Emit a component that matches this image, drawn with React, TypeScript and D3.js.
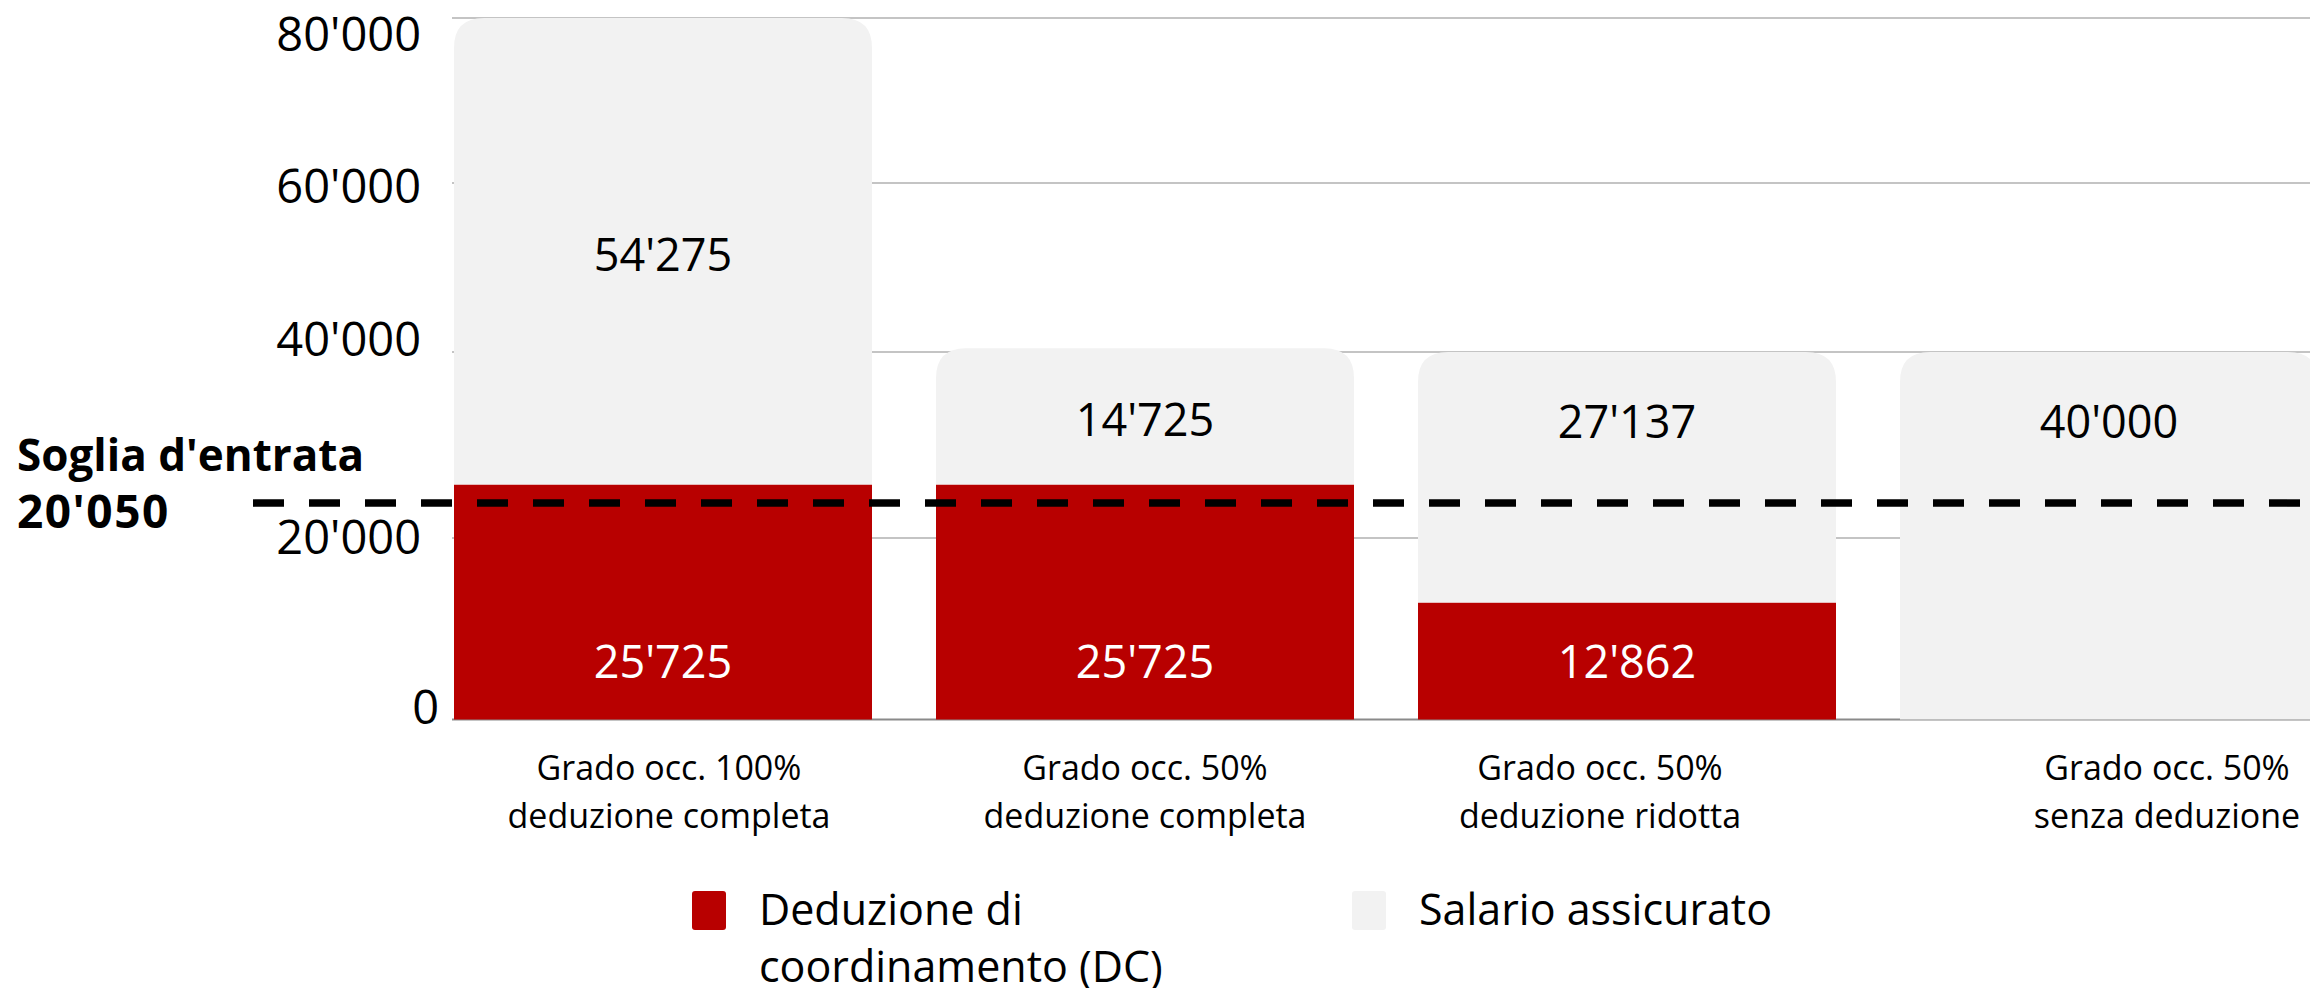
import React from "react";
import * as d3 from "d3";

// ---- data ----
const CAT_LINE1 = ["Grado occ. 100%", "Grado occ. 50%", "Grado occ. 50%", "Grado occ. 50%"];
const CAT_LINE2 = ["deduzione completa", "deduzione completa", "deduzione ridotta", "senza deduzione"];
const DC_VALUES = [25725, 25725, 12862, 0]; // Deduzione di coordinamento
const SALARY_VALUES = [54275, 14725, 27137, 40000]; // Salario assicurato
const Y_TICKS = [0, 20000, 40000, 60000, 80000];
const THRESHOLD_TITLE = "Soglia d'entrata";
const THRESHOLD_VALUE = 20050;
const THRESHOLD_LINE_AT = 23760; // where the dashed line sits on the reference's axis
const LEGEND_LABELS = [["Deduzione di", "coordinamento (DC)"], ["Salario assicurato"]];

// ---- layout / style ----
const W = 2310;
const H = 988;
const RED = "#b80000";
const GREY = "#f2f2f2";
const FONT = "'Open Sans', 'Noto Sans', sans-serif";
const TICK_NUDGE: Record<number, number> = { 0: -12, 20000: -1, 40000: -13, 60000: 3, 80000: 16 };
const CAT_NUDGE = [6, 0, -27, 58];

const fmt = (v: number) => d3.format(",")(v).replace(/,/g, "'");

function topRounded(x: number, y: number, w: number, h: number, r: number) {
  const rr = Math.min(r, h, w / 2);
  return `M${x},${y + h}V${y + rr}Q${x},${y} ${x + rr},${y}H${x + w - rr}Q${x + w},${y} ${x + w},${y + rr}V${y + h}Z`;
}

export default function App() {
  const x = d3
    .scaleBand<number>()
    .domain(d3.range(CAT_LINE1.length))
    .range([454, 2318])
    .paddingInner(64 / 482)
    .paddingOuter(0);

  const y = d3.scaleLinear().domain(Y_TICKS).range([719.5, 538, 352, 183, 18]);

  const bw = x.bandwidth();
  const y0 = y(0);
  const yLine = y(THRESHOLD_LINE_AT);

  return (
    <svg
      width={W}
      height={H}
      style={{ position: "absolute", left: 0, top: 0, background: "#fff" }}
      fontFamily={FONT}
    >
      {/* gridlines */}
      {Y_TICKS.filter((t) => t > 0).map((t) => (
        <line key={t} x1={452} x2={W} y1={y(t)} y2={y(t)} stroke="#c4c4c4" strokeWidth={1.8} />
      ))}
      {/* axis */}
      <line x1={452} x2={W} y1={y0} y2={y0} stroke="#8a8a8a" strokeWidth={1.8} />

      {/* tick labels */}
      {Y_TICKS.map((t) => (
        <text
          key={t}
          x={t === 0 ? 439 : 421}
          y={y(t) + TICK_NUDGE[t] + 16.5}
          textAnchor="end"
          fontSize={47}
          fill="#000"
        >
          {fmt(t)}
        </text>
      ))}

      {/* bars */}
      {CAT_LINE1.map((_, i) => {
        const bx = x(i)!;
        const dc = DC_VALUES[i];
        const total = dc + SALARY_VALUES[i];
        const yTop = y(total);
        const yDc = y(dc);
        return (
          <g key={i}>
            <path d={topRounded(bx, yTop, bw, yDc - yTop, 30)} fill={GREY} />
            {dc > 0 && <rect x={bx} y={yDc} width={bw} height={y0 - yDc} fill={RED} />}
          </g>
        );
      })}

      {/* value labels */}
      {CAT_LINE1.map((_, i) => {
        const cx = x(i)! + bw / 2;
        const dc = DC_VALUES[i];
        const total = dc + SALARY_VALUES[i];
        const greyY = (y(total) + yLine) / 2 - 6;
        return (
          <g key={i} fontSize={45} textAnchor="middle">
            <text x={cx} y={greyY + 16} fill="#000">
              {fmt(SALARY_VALUES[i])}
            </text>
            {dc > 0 && (
              <text x={cx} y={y0 - 58 + 16} fill="#fff">
                {fmt(dc)}
              </text>
            )}
          </g>
        );
      })}

      {/* threshold */}
      <line
        x1={253}
        x2={W}
        y1={yLine}
        y2={yLine}
        stroke="#000"
        strokeWidth={7.5}
        strokeDasharray="31 25"
      />
      <g fontWeight={700} fill="#000">
        <text x={17} y={yLine - 32} fontSize={44}>
          {THRESHOLD_TITLE}
        </text>
        <text x={17} y={yLine + 25} fontSize={46} letterSpacing={1.5}>
          {fmt(THRESHOLD_VALUE)}
        </text>
      </g>

      {/* category labels */}
      {CAT_LINE1.map((l1, i) => {
        const cx = x(i)! + bw / 2 + CAT_NUDGE[i];
        return (
          <g key={i} fontSize={34} textAnchor="middle" fill="#000">
            <text x={cx} y={y0 + 60}>
              {l1}
            </text>
            <text x={cx} y={y0 + 108}>
              {CAT_LINE2[i]}
            </text>
          </g>
        );
      })}

      {/* legend */}
      {LEGEND_LABELS.map((lines, i) => {
        const lx = i === 0 ? 692 : 1352;
        return (
          <g key={i}>
            <rect x={lx} y={891} width={34} height={39} rx={3} fill={i === 0 ? RED : GREY} />
            {lines.map((t, j) => (
              <text key={j} x={lx + 67} y={925 + j * 57} fontSize={43} fill="#000">
                {t}
              </text>
            ))}
          </g>
        );
      })}
    </svg>
  );
}
